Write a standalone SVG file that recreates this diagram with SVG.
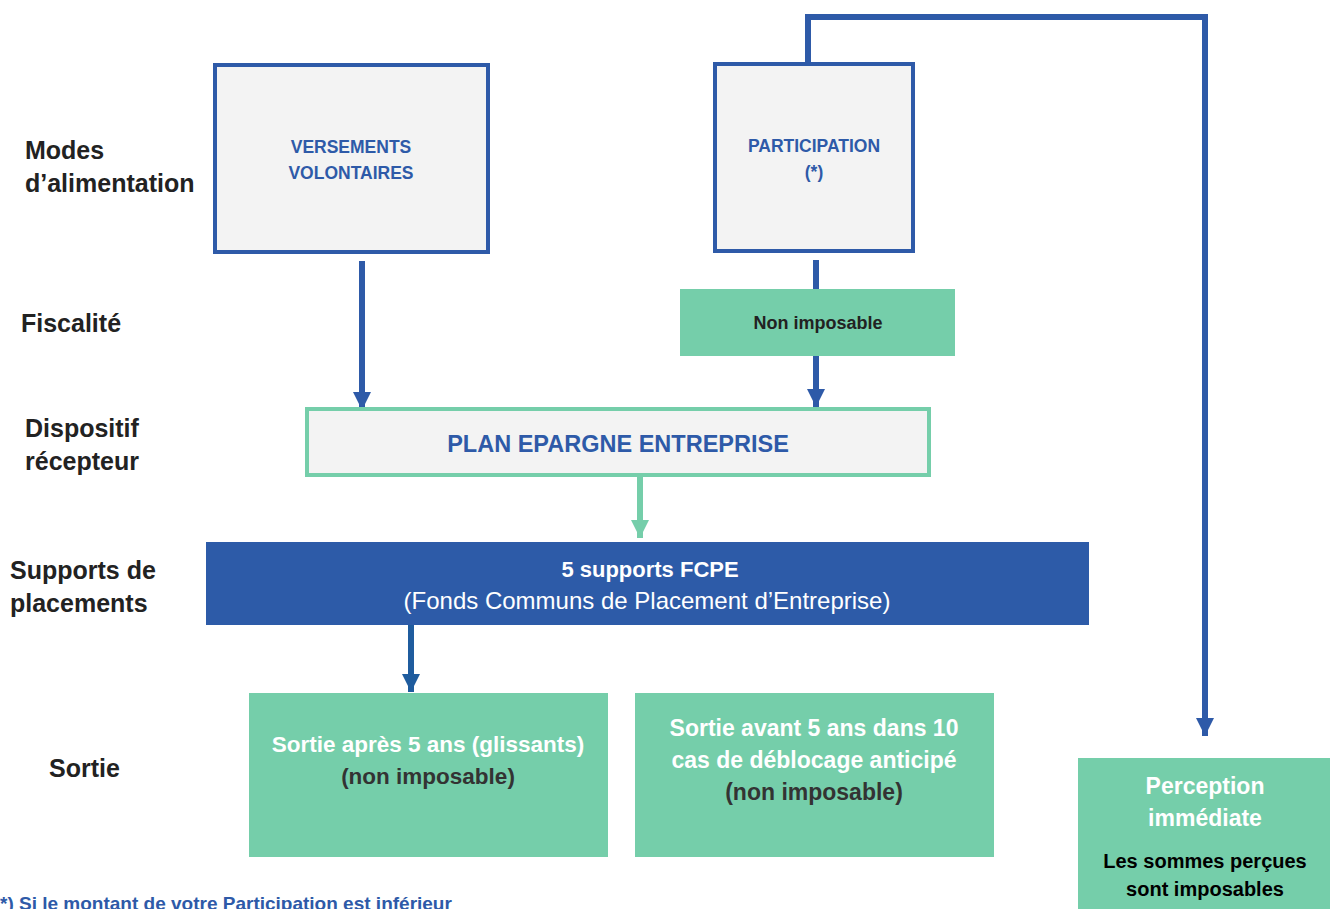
<svg xmlns="http://www.w3.org/2000/svg" width="1330" height="909" viewBox="0 0 1330 909">
<defs>
<style>
text{font-family:"Liberation Sans",Arial,sans-serif;font-weight:bold}
.lab{font-size:25px;fill:#222}
.blue{fill:#2E5AA8}
.wh{fill:#fff}
.dk{fill:#333}
.mid{text-anchor:middle}
</style>
<marker id="ab" viewBox="0 0 10 10" refX="10" refY="5" markerWidth="3" markerHeight="3.7" orient="auto" markerUnits="strokeWidth"><path d="M0,0L10,5L0,10z" fill="#2E5AA8"/></marker>
<marker id="ad" viewBox="0 0 10 10" refX="10" refY="5" markerWidth="3" markerHeight="3.7" orient="auto" markerUnits="strokeWidth"><path d="M0,0L10,5L0,10z" fill="#1F5C9E"/></marker>
<marker id="ag" viewBox="0 0 10 10" refX="10" refY="5" markerWidth="3" markerHeight="3.7" orient="auto" markerUnits="strokeWidth"><path d="M0,0L10,5L0,10z" fill="#75CEAA"/></marker>
</defs>
<rect width="1330" height="909" fill="#fff"/>
<g id="labels">
<text class="lab" x="25" y="159">Modes</text>
<text class="lab" x="25" y="192">d’alimentation</text>
<text class="lab" x="21" y="332">Fiscalité</text>
<text class="lab" x="25" y="437">Dispositif</text>
<text class="lab" x="25" y="470">récepteur</text>
<text class="lab" x="10" y="579">Supports de</text>
<text class="lab" x="10" y="612">placements</text>
<text class="lab" x="49" y="777">Sortie</text>
</g>
<g id="connectors" fill="none">
<path d="M808,62V17H1205V736" stroke="#2E5AA8" stroke-width="6" marker-end="url(#ab)"/>
<path d="M362,261V410" stroke="#2E5AA8" stroke-width="6" marker-end="url(#ab)"/>
<path d="M816,260V292" stroke="#2E5AA8" stroke-width="6"/>
<path d="M816,356V407" stroke="#2E5AA8" stroke-width="6" marker-end="url(#ab)"/>
<path d="M640,477V538" stroke="#75CEAA" stroke-width="6" marker-end="url(#ag)"/>
<path d="M411,625V692" stroke="#1F5C9E" stroke-width="6" marker-end="url(#ad)"/>
</g>
<g id="versements">
<rect x="215" y="65" width="273" height="187" fill="#F3F3F3" stroke="#2E5AA8" stroke-width="4"/>
<text class="blue mid" x="351" y="153" font-size="17.5">VERSEMENTS</text>
<text class="blue mid" x="351" y="179" font-size="17.5">VOLONTAIRES</text>
</g>
<g id="participation">
<rect x="715" y="64" width="198" height="187" fill="#F3F3F3" stroke="#2E5AA8" stroke-width="4"/>
<text class="blue mid" x="814" y="152" font-size="17.5">PARTICIPATION</text>
<text class="blue mid" x="814" y="178" font-size="17.5">(*)</text>
</g>
<g id="nonimposable">
<rect x="680" y="289" width="275" height="67" fill="#75CEAA"/>
<text class="mid" x="818" y="329" font-size="18" fill="#222">Non imposable</text>
</g>
<g id="pee">
<rect x="307" y="409" width="622" height="66" fill="#F3F3F3" stroke="#75CEAA" stroke-width="4"/>
<text class="blue mid" x="618" y="452" font-size="23.5">PLAN EPARGNE ENTREPRISE</text>
</g>
<g id="fcpe">
<rect x="206" y="542" width="883" height="83" fill="#2D5BA8"/>
<text class="wh mid" x="650" y="577" font-size="22">5 supports FCPE</text>
<text class="wh mid" x="647" y="609" font-size="24" style="font-weight:normal">(Fonds Communs de Placement d’Entreprise)</text>
</g>
<g id="sortie1">
<rect x="249" y="693" width="359" height="164" fill="#75CEAA"/>
<text class="wh mid" x="428" y="752" font-size="22.5">Sortie après 5 ans (glissants)</text>
<text class="dk mid" x="428" y="784" font-size="22.5">(non imposable)</text>
</g>
<g id="sortie2">
<rect x="635" y="693" width="359" height="164" fill="#75CEAA"/>
<text class="wh mid" x="814" y="736" font-size="23">Sortie avant 5 ans dans 10</text>
<text class="wh mid" x="814" y="768" font-size="23">cas de déblocage anticipé</text>
<text class="dk mid" x="814" y="800" font-size="23">(non imposable)</text>
</g>
<g id="perception">
<rect x="1078" y="758" width="252" height="151" fill="#75CEAA"/>
<text class="wh mid" x="1205" y="794" font-size="23">Perception</text>
<text class="wh mid" x="1205" y="826" font-size="23">immédiate</text>
<text class="mid" x="1205" y="868" font-size="20" fill="#000">Les sommes perçues</text>
<text class="mid" x="1205" y="896" font-size="20" fill="#000">sont imposables</text>
</g>
<g id="footnote">
<text class="blue" x="0" y="910" font-size="19">*) Si le montant de votre Participation est inférieur</text>
</g>
</svg>
